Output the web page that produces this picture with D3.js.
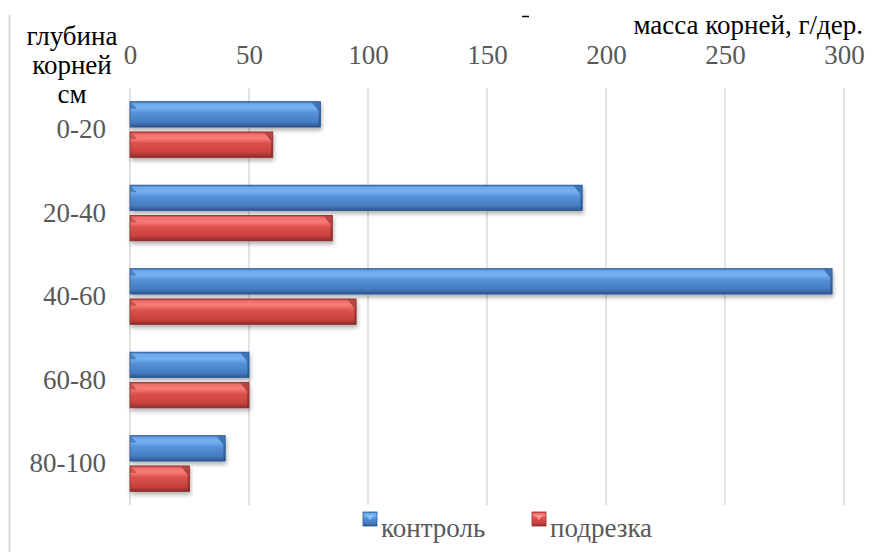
<!DOCTYPE html>
<html><head><meta charset="utf-8">
<script src="https://cdn.jsdelivr.net/npm/d3@7"></script>
<style>body{margin:0;background:#fff}svg{display:block}</style>
</head><body>
<script>
const categories = ["0-20","20-40","40-60","60-80","80-100"];
const seriesNames = ["контроль","подрезка"];
const control = [80,190,295,50,40];
const cut = [60,85,95,50,25];
const xTicks = [0,50,100,150,200,250,300];

const W=875,H=552;
const FS=27, FF="Liberation Serif";
const svg=d3.select("body").append("svg").attr("width",W).attr("height",H).attr("font-family",FF);
const defs=svg.append("defs");
function grad(id,stops){
  const g=defs.append("linearGradient").attr("id",id).attr("x1",0).attr("y1",0).attr("x2",0).attr("y2",1);
  stops.forEach(s=>g.append("stop").attr("offset",s[0]).attr("stop-color",s[1]));
}
grad("gb",[[0,"#3b6fb0"],[0.08,"#6aa8ea"],[0.25,"#75b2f2"],[0.45,"#5590d8"],[0.8,"#467dc2"],[0.93,"#36639f"],[1,"#2b5185"]]);
grad("gr",[[0,"#b53a38"],[0.08,"#f06e6a"],[0.25,"#f77d78"],[0.45,"#dc504c"],[0.8,"#c9423f"],[0.93,"#a53432"],[1,"#842827"]]);
grad("gbe",[[0,"#3c72b4"],[1,"#2a5285"]]);
grad("gre",[[0,"#b84442"],[1,"#862a28"]]);
const f=defs.append("filter").attr("id","sh").attr("x","-5%").attr("y","-30%").attr("width","110%").attr("height","170%");
f.append("feDropShadow").attr("dx",1).attr("dy",3).attr("stdDeviation",2).attr("flood-color","#000").attr("flood-opacity",0.3);

const x=d3.scaleLinear().domain([0,300]).range([130,844]);
const y=d3.scaleBand().domain(categories).range([87.75,505.25]).paddingInner(0.333).paddingOuter(0.1665);
const y1=d3.scaleBand().domain(seriesNames).range([0,y.bandwidth()]).paddingInner(0.16);

// left border
svg.append("line").attr("x1",9.5).attr("x2",9.5).attr("y1",15).attr("y2",552).attr("stroke","#d9d9d9").attr("stroke-width",2);
// small dash at top
svg.append("line").attr("x1",522).attr("x2",529).attr("y1",16.5).attr("y2",16.5).attr("stroke","#000").attr("stroke-width",1.5);

// gridlines
svg.append("g").selectAll("line").data(xTicks).join("line")
  .attr("x1",d=>x(d)).attr("x2",d=>x(d)).attr("y1",88).attr("y2",505)
  .attr("stroke","#d9d9d9").attr("stroke-width",1.5);

// x axis labels on top
const xa=svg.append("g").attr("transform","translate(0,64)")
  .call(d3.axisTop(x).tickValues(xTicks).tickSize(0).tickPadding(0).tickFormat(d3.format("d")));
xa.attr("font-family",FF);
xa.select(".domain").remove();
xa.selectAll("text").attr("font-family",FF).attr("font-size",FS).attr("fill","#595959");

// y axis labels
const ya=svg.append("g").attr("transform","translate(106,0)")
  .call(d3.axisLeft(y).tickSize(0).tickPadding(0));
ya.attr("font-family",FF);
ya.select(".domain").remove();
ya.selectAll("text").attr("font-family",FF).attr("font-size",FS).attr("fill","#595959").attr("dy","0.33em");

// titles
const t1=svg.append("text").attr("font-family",FF).attr("font-size",FS).attr("fill","#000").attr("text-anchor","middle");
[["глубина",45],["корней",74],["см",103]].forEach(([s,yy])=>t1.append("tspan").attr("x",72).attr("y",yy).text(s));
svg.append("text").attr("x",863).attr("y",34).attr("text-anchor","end").attr("font-family",FF).attr("font-size",FS).attr("fill","#000").text("масса корней, г/дер.");

// bars
const data=[];
categories.forEach((c,i)=>{data.push({c,s:seriesNames[0],v:control[i]});data.push({c,s:seriesNames[1],v:cut[i]});});
const bars=svg.append("g").selectAll("g").data(data).join("g").attr("filter","url(#sh)");
bars.each(function(d){
  const g=d3.select(this);
  const x0=x(0),x1=x(d.v),yy=y(d.c)+y1(d.s),h=y1.bandwidth();
  const blue=d.s===seriesNames[0];
  g.append("rect").attr("x",x0).attr("y",yy).attr("width",x1-x0).attr("height",h).attr("fill",blue?"url(#gb)":"url(#gr)");
  const b=Math.min(9,(x1-x0)/3);
  g.append("path").attr("d",`M${x1-b},${yy}L${x1},${yy}L${x1},${yy+h}L${x1-b*0.2},${yy+h}L${x1-b*0.2},${yy+b}Z`)
    .attr("fill",blue?"url(#gbe)":"url(#gre)").attr("opacity",0.9);
  g.append("path").attr("d",`M${x0},${yy}L${x0+b*0.8},${yy+b*0.8}L${x0},${yy+b*0.8}Z`).attr("fill",blue?"#3466a8":"#ad3a38").attr("opacity",0.6);
  g.append("rect").attr("x",x0).attr("y",yy).attr("width",x1-x0).attr("height",h).attr("fill","none").attr("stroke",blue?"#2c5a94":"#8e2e2c").attr("stroke-width",0.8);
});

// legend
const leg=svg.append("g");
const lx=[363,532];
seriesNames.forEach((s,i)=>{
  const blue=i===0;
  leg.append("rect").attr("x",lx[i]).attr("y",512).attr("width",14).attr("height",14).attr("fill",blue?"url(#gb)":"url(#gr)").attr("stroke",blue?"#2c5a94":"#8e2e2c").attr("stroke-width",0.8);
  leg.append("path").attr("d",`M${lx[i]+3},${515}L${lx[i]+11},${515}L${lx[i]+7},${520}Z`).attr("fill",blue?"#8cc4fa":"#fb9a96");
  leg.append("text").attr("x",lx[i]+18).attr("y",537).attr("font-family",FF).attr("font-size",FS).attr("fill","#595959").text(s);
});
</script>
</body></html>
